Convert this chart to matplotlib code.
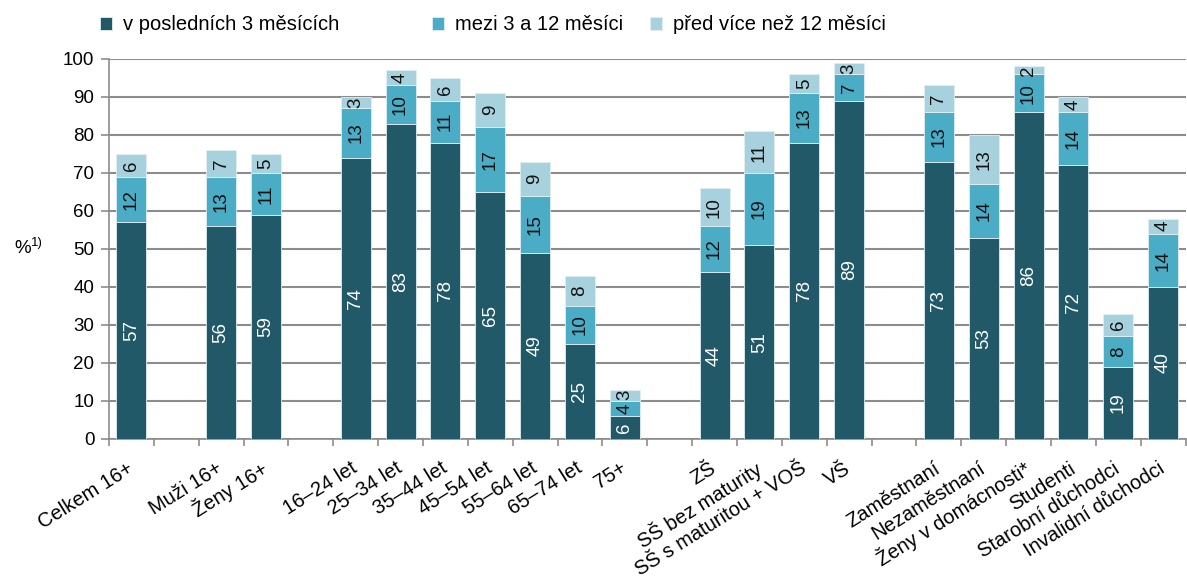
import matplotlib
matplotlib.use("Agg")
import matplotlib.pyplot as plt
import numpy as np

plt.rcParams["font.family"] = ["Liberation Sans", "DejaVu Sans"]

categories = [
    "Celkem 16+",
    "Muži 16+", "Ženy 16+",
    "16–24 let", "25–34 let", "35–44 let", "45–54 let", "55–64 let", "65–74 let", "75+",
    "ZŠ", "SŠ bez maturity", "SŠ s maturitou + VOŠ", "VŠ",
    "Zaměstnaní", "Nezaměstnaní", "Ženy v domácnosti*", "Studenti",
    "Starobní důchodci", "Invalidní důchodci",
]
group_sizes = [1, 2, 7, 4, 6]

last_3m = [57, 56, 59, 74, 83, 78, 65, 49, 25, 6, 44, 51, 78, 89, 73, 53, 86, 72, 19, 40]
m3_12 = [12, 13, 11, 13, 10, 11, 17, 15, 10, 4, 12, 19, 13, 7, 13, 14, 10, 14, 8, 14]
over_12 = [6, 7, 5, 3, 4, 6, 9, 9, 8, 3, 10, 11, 5, 3, 7, 13, 2, 4, 6, 4]

series_names = ["v posledních 3 měsících", "mezi 3 a 12 měsíci", "před více než 12 měsíci"]
colors = ["#225968", "#4bacc6", "#a8d1de"]
text_colors = ["white", "#111111", "#111111"]
grid_c = "#8c8c8c"

# one empty slot between groups
pos = []
slot = 0
for g in group_sizes:
    pos.extend(range(slot, slot + g))
    slot += g + 1
pos = np.array(pos)
n_slots = slot - 1

fig = plt.figure(figsize=(11.87, 5.83), dpi=100)
ax = fig.add_axes([0.0918, 0.247, 0.907, 0.652])

bottom = np.zeros(len(categories))
handles = []
for vals, name, c, tc in zip([last_3m, m3_12, over_12], series_names, colors, text_colors):
    vals = np.array(vals, dtype=float)
    bars = ax.bar(pos, vals, width=0.67, bottom=bottom, color=c, edgecolor="#dfeff3",
                  linewidth=0.6, label=name, zorder=3)
    handles.append(bars)
    for x, b, v in zip(pos, bottom, vals):
        ax.text(x, b + v / 2, f"{v:.0f}", rotation=90, ha="center", va="center",
                fontsize=13.5, color=tc, zorder=4)
    bottom += vals

ax.set_ylim(0, 100)
ax.set_xlim(-0.5, n_slots - 0.5)
ax.set_yticks(range(0, 101, 10))
ax.tick_params(axis="y", labelsize=13.5, length=5.5, pad=5, color=grid_c, width=1.2)
ax.yaxis.grid(True, color=grid_c, lw=1.5, zorder=0)
ax.set_axisbelow(True)

ax.set_xticks(pos)
ax.set_xticklabels(categories, rotation=32, ha="right", va="center",
                   rotation_mode="anchor", fontsize=14.5)
ax.tick_params(axis="x", which="major", length=0, pad=20)
ax.set_xticks(np.arange(-0.5, n_slots, 1.0), minor=True)
ax.tick_params(axis="x", which="minor", length=5, color=grid_c, width=1.2)

for s in ["top", "right"]:
    ax.spines[s].set_visible(False)
for s in ["left", "bottom"]:
    ax.spines[s].set_color(grid_c)
    ax.spines[s].set_linewidth(1.2)

fig.text(0.012, 0.573, "%", fontsize=13.5, ha="left", va="center")
fig.text(0.026, 0.583, "1)", fontsize=9.5, ha="left", va="center")

# legend entries placed individually along the top
legend_x = [100, 432, 650]
for h, name, lx in zip(handles, series_names, legend_x):
    fig.legend(handles=[h], labels=[name], loc="center left",
               bbox_to_anchor=(lx / 1187, 1 - 25 / 583), frameon=False, fontsize=14.5,
               handlelength=0.6, handleheight=0.6, handletextpad=0.55,
               borderpad=0, borderaxespad=0)

fig.savefig("out.png", dpi=100)
